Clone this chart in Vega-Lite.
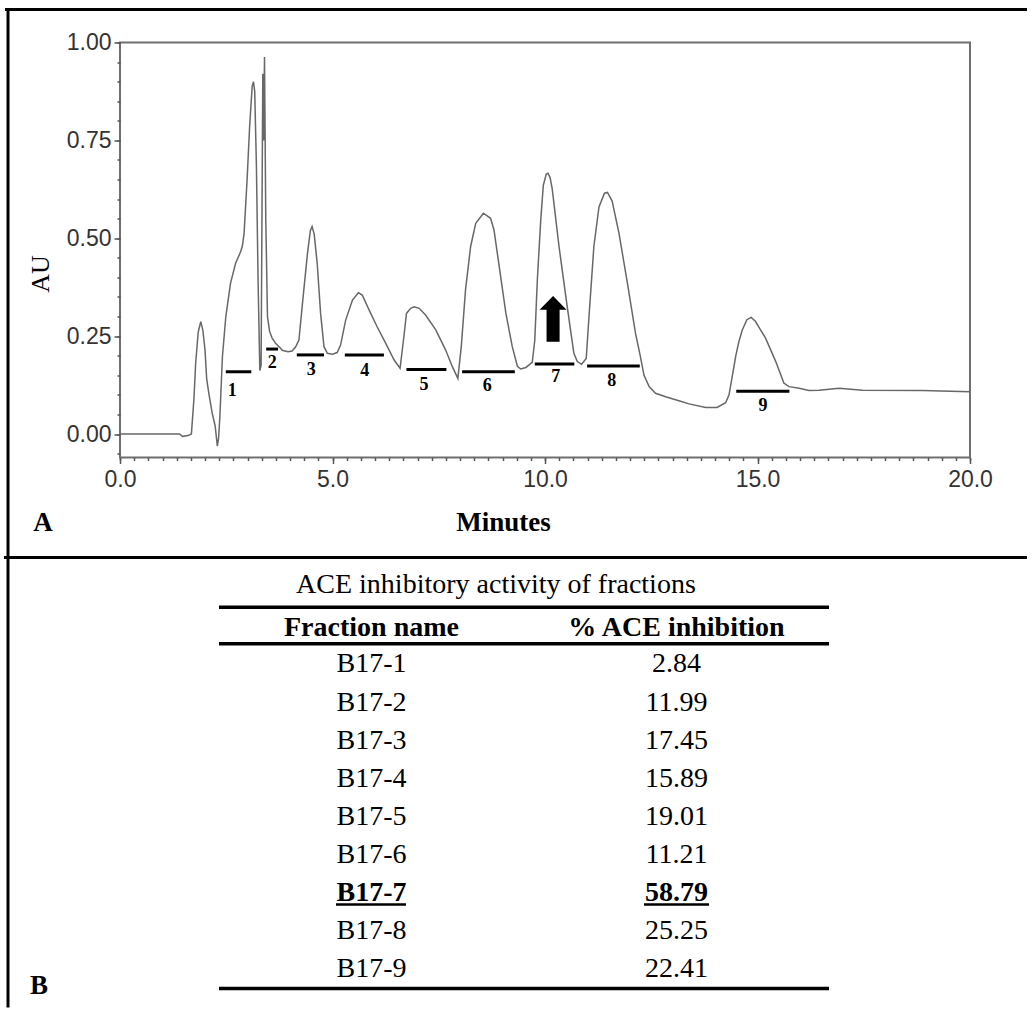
{
  "$schema": "https://vega.github.io/schema/vega-lite/v6.json",
  "background": "white",
  "padding": {"left": 2, "top": 5.5, "right": 0, "bottom": 0},
  "bounds": "flush",
  "spacing": 100,
  "config": {"view": {"stroke": null}, "text": {"font": "Liberation Serif", "color": "black"}},
  "datasets": {
    "curve": [
      {"t":0,"au":0},{"t":1.40,"au":0},{"t":1.47,"au":-0.006},{"t":1.60,"au":-0.004},{"t":1.68,"au":0.0},{"t":1.74,"au":0.09},{"t":1.78,"au":0.18},{"t":1.84,"au":0.26},{"t":1.90,"au":0.287},{"t":1.95,"au":0.265},{"t":2.00,"au":0.215},{"t":2.04,"au":0.14},{"t":2.09,"au":0.104},{"t":2.17,"au":0.053},{"t":2.24,"au":0.02},{"t":2.29,"au":-0.031},{"t":2.32,"au":-0.01},{"t":2.35,"au":0.044},{"t":2.41,"au":0.198},{"t":2.49,"au":0.30},{"t":2.60,"au":0.385},{"t":2.72,"au":0.436},{"t":2.84,"au":0.466},{"t":2.88,"au":0.48},{"t":2.92,"au":0.513},{"t":2.99,"au":0.649},{"t":3.05,"au":0.785},{"t":3.11,"au":0.888},{"t":3.14,"au":0.900},{"t":3.17,"au":0.875},{"t":3.21,"au":0.683},{"t":3.25,"au":0.385},{"t":3.29,"au":0.162},{"t":3.32,"au":0.175},{"t":3.36,"au":0.92},{"t":3.38,"au":0.75},{"t":3.40,"au":0.963},{"t":3.43,"au":0.55},{"t":3.47,"au":0.30},{"t":3.52,"au":0.262},{"t":3.58,"au":0.245},{"t":3.66,"au":0.232},{"t":3.75,"au":0.222},{"t":3.82,"au":0.214},{"t":3.95,"au":0.210},{"t":4.05,"au":0.212},{"t":4.13,"au":0.222},{"t":4.21,"au":0.24},{"t":4.29,"au":0.33},{"t":4.41,"au":0.46},{"t":4.48,"au":0.52},{"t":4.52,"au":0.53},{"t":4.57,"au":0.51},{"t":4.64,"au":0.436},{"t":4.72,"au":0.308},{"t":4.80,"au":0.223},{"t":4.88,"au":0.206},{"t":5.0,"au":0.204},{"t":5.11,"au":0.208},{"t":5.19,"au":0.227},{"t":5.31,"au":0.291},{"t":5.47,"au":0.342},{"t":5.61,"au":0.361},{"t":5.70,"au":0.355},{"t":5.86,"au":0.317},{"t":6.05,"au":0.274},{"t":6.25,"au":0.232},{"t":6.45,"au":0.189},{"t":6.59,"au":0.168},{"t":6.68,"au":0.249},{"t":6.74,"au":0.308},{"t":6.84,"au":0.321},{"t":6.92,"au":0.325},{"t":7.04,"au":0.321},{"t":7.19,"au":0.304},{"t":7.43,"au":0.266},{"t":7.66,"au":0.215},{"t":7.82,"au":0.172},{"t":7.95,"au":0.142},{"t":8.03,"au":0.223},{"t":8.13,"au":0.368},{"t":8.25,"au":0.479},{"t":8.37,"au":0.538},{"t":8.55,"au":0.564},{"t":8.72,"au":0.551},{"t":8.80,"au":0.521},{"t":8.92,"au":0.43},{"t":9.08,"au":0.308},{"t":9.23,"au":0.223},{"t":9.35,"au":0.173},{"t":9.43,"au":0.166},{"t":9.55,"au":0.170},{"t":9.70,"au":0.183},{"t":9.76,"au":0.240},{"t":9.82,"au":0.394},{"t":9.90,"au":0.547},{"t":9.96,"au":0.635},{"t":10.03,"au":0.664},{"t":10.07,"au":0.666},{"t":10.12,"au":0.655},{"t":10.17,"au":0.626},{"t":10.33,"au":0.479},{"t":10.49,"au":0.351},{"t":10.60,"au":0.266},{"t":10.68,"au":0.206},{"t":10.76,"au":0.185},{"t":10.86,"au":0.178},{"t":10.97,"au":0.193},{"t":11.04,"au":0.308},{"t":11.15,"au":0.479},{"t":11.27,"au":0.580},{"t":11.40,"au":0.615},{"t":11.47,"au":0.617},{"t":11.58,"au":0.595},{"t":11.74,"au":0.513},{"t":11.94,"au":0.385},{"t":12.13,"au":0.257},{"t":12.24,"au":0.20},{"t":12.33,"au":0.15},{"t":12.45,"au":0.121},{"t":12.60,"au":0.104},{"t":12.84,"au":0.095},{"t":13.15,"au":0.085},{"t":13.39,"au":0.077},{"t":13.78,"au":0.068},{"t":14.05,"au":0.068},{"t":14.25,"au":0.080},{"t":14.33,"au":0.100},{"t":14.41,"au":0.150},{"t":14.49,"au":0.20},{"t":14.56,"au":0.235},{"t":14.64,"au":0.265},{"t":14.75,"au":0.292},{"t":14.85,"au":0.298},{"t":14.95,"au":0.288},{"t":15.05,"au":0.27},{"t":15.19,"au":0.245},{"t":15.43,"au":0.185},{"t":15.62,"au":0.130},{"t":15.74,"au":0.121},{"t":15.98,"au":0.117},{"t":16.21,"au":0.111},{"t":16.45,"au":0.112},{"t":16.92,"au":0.117},{"t":17.47,"au":0.112},{"t":18.88,"au":0.111},{"t":20.0,"au":0.108}
    ],
    "fractions": [
      {"fraction":"1","start":2.49,"end":3.09,"level":0.159,"label_t":2.64,"label_au":0.111},
      {"fraction":"2","start":3.44,"end":3.72,"level":0.217,"label_t":3.58,"label_au":0.181},
      {"fraction":"3","start":4.16,"end":4.80,"level":0.202,"label_t":4.50,"label_au":0.164},
      {"fraction":"4","start":5.29,"end":6.21,"level":0.202,"label_t":5.76,"label_au":0.162},
      {"fraction":"5","start":6.74,"end":7.68,"level":0.165,"label_t":7.15,"label_au":0.125},
      {"fraction":"6","start":8.05,"end":9.29,"level":0.159,"label_t":8.64,"label_au":0.123},
      {"fraction":"7","start":9.76,"end":10.69,"level":0.179,"label_t":10.25,"label_au":0.145},
      {"fraction":"8","start":10.99,"end":12.23,"level":0.174,"label_t":11.57,"label_au":0.135},
      {"fraction":"9","start":14.50,"end":15.75,"level":0.109,"label_t":15.13,"label_au":0.072}
    ],
    "table": [
      {"fraction":"B17-1","inhibition":2.84,"row":1,"best":false},
      {"fraction":"B17-2","inhibition":11.99,"row":2,"best":false},
      {"fraction":"B17-3","inhibition":17.45,"row":3,"best":false},
      {"fraction":"B17-4","inhibition":15.89,"row":4,"best":false},
      {"fraction":"B17-5","inhibition":19.01,"row":5,"best":false},
      {"fraction":"B17-6","inhibition":11.21,"row":6,"best":false},
      {"fraction":"B17-7","inhibition":58.79,"row":7,"best":true},
      {"fraction":"B17-8","inhibition":25.25,"row":8,"best":false},
      {"fraction":"B17-9","inhibition":22.41,"row":9,"best":false}
    ]
  },
  "vconcat": [
    {
      "width": 850,
      "height": 415,
      "view": {"stroke": "#6f6f6f", "strokeWidth": 2},
      "resolve": {"axis": {"x": "independent", "y": "independent"}},
      "layer": [
        {
          "data": {"name": "curve"},
          "mark": {"type": "line", "color": "#686868", "strokeWidth": 1.5},
          "encoding": {
            "x": {
              "field": "t", "type": "quantitative",
              "scale": {"domain": [0, 20], "nice": false, "zero": false},
              "axis": {
                "orient": "bottom",
                "values": [0, 5, 10, 15, 20], "format": ".1f",
                "tickSize": 6, "domain": false, "grid": false,
                "labelFont": "Liberation Sans", "labelFontSize": 23, "labelColor": "#333333",
                "labelPadding": 5, "labelOverlap": false, "labelFlush": false, "labelBound": false,
                "tickColor": "#555555", "tickWidth": 1.5,
                "title": "Minutes", "titleFont": "Liberation Serif", "titleFontSize": 27, "titleFontWeight": "bold",
                "titleColor": "black", "titleX": 383, "titleY": 73, "titleAlign": "center", "titleBaseline": "alphabetic"
              }
            },
            "y": {
              "field": "au", "type": "quantitative",
              "scale": {"domain": [-0.06, 1.0], "nice": false, "zero": false},
              "axis": {
                "orient": "left",
                "values": [0, 0.25, 0.5, 0.75, 1.0], "format": ".2f",
                "tickSize": 6, "domain": false, "grid": false,
                "labelFont": "Liberation Sans", "labelFontSize": 23, "labelColor": "#333333",
                "labelPadding": 3, "labelOverlap": false, "labelFlush": false, "labelBound": false,
                "tickColor": "#555555", "tickWidth": 1.5,
                "title": "AU", "titleFont": "Liberation Serif", "titleFontSize": 26, "titleFontWeight": "normal",
                "titleColor": "black", "titleX": -80, "titleY": 231, "titleAngle": -90, "titleAlign": "center", "titleBaseline": "middle"
              }
            }
          }
        },
        {
          "data": {"name": "fractions"},
          "mark": {"type": "rule", "color": "black", "strokeWidth": 3},
          "encoding": {
            "x": {"field": "start", "type": "quantitative",
              "axis": {"orient": "bottom", "values": [0,0.3333,0.6667,1,1.3333,1.6667,2,2.3333,2.6667,3,3.3333,3.6667,4,4.3333,4.6667,5,5.3333,5.6667,6,6.3333,6.6667,7,7.3333,7.6667,8,8.3333,8.6667,9,9.3333,9.6667,10,10.3333,10.6667,11,11.3333,11.6667,12,12.3333,12.6667,13,13.3333,13.6667,14,14.3333,14.6667,15,15.3333,15.6667,16,16.3333,16.6667,17,17.3333,17.6667,18,18.3333,18.6667,19,19.3333,19.6667,20],
                "labels": false, "tickSize": 3, "tickColor": "#555555", "tickWidth": 1.5, "domain": false, "grid": false, "title": null}},
            "x2": {"field": "end"},
            "y": {"field": "level", "type": "quantitative",
              "axis": {"orient": "left", "values": [-0.05,0,0.05,0.1,0.15,0.2,0.25,0.3,0.35,0.4,0.45,0.5,0.55,0.6,0.65,0.7,0.75,0.8,0.85,0.9,0.95,1.0],
                "labels": false, "tickSize": 3, "tickColor": "#555555", "tickWidth": 1.5, "domain": false, "grid": false, "title": null}}
          }
        },
        {
          "data": {"name": "fractions"},
          "mark": {"type": "text", "font": "Liberation Serif", "fontWeight": "bold", "fontSize": 18, "align": "center", "baseline": "middle", "color": "black"},
          "encoding": {
            "x": {"field": "label_t", "type": "quantitative", "axis": null},
            "y": {"field": "label_au", "type": "quantitative", "axis": null},
            "text": {"field": "fraction"}
          }
        },
        {
          "data": {"values": [{"t": 10.19, "au": 0.2943}]},
          "mark": {"type": "point", "shape": "M0,-1L0.59,-0.39L0.285,-0.39L0.285,1L-0.285,1L-0.285,-0.39L-0.59,-0.39Z", "filled": true, "color": "black", "opacity": 1, "size": 2090, "strokeWidth": 0},
          "encoding": {
            "x": {"field": "t", "type": "quantitative", "axis": null},
            "y": {"field": "au", "type": "quantitative", "axis": null}
          }
        },
        {
          "data": {"values": [{}]},
          "mark": {"type": "text", "text": "A", "font": "Liberation Serif", "fontWeight": "bold", "fontSize": 27, "align": "center", "baseline": "alphabetic", "color": "black"},
          "encoding": {"x": {"datum": -1.812, "axis": null}, "y": {"datum": -0.2465, "axis": null}}
        },
        {
          "data": {"values": [{}]},
          "mark": {"type": "rule", "color": "black", "strokeWidth": 3},
          "encoding": {"x": {"datum": -2.706, "axis": null}, "x2": {"datum": 21.341}, "y": {"datum": 1.0843, "axis": null}}
        },
        {
          "data": {"values": [{}]},
          "mark": {"type": "rule", "color": "black", "strokeWidth": 3},
          "encoding": {"x": {"datum": -2.635, "axis": null}, "y": {"datum": 1.0881, "axis": null}, "y2": {"datum": -0.3154}}
        }
      ]
    },
    {
      "width": 850,
      "height": 450,
      "view": {"stroke": null},
      "encoding": {
        "x": {"type": "quantitative", "scale": {"domain": [-0.32459, 2.4623], "nice": false, "zero": false}, "axis": null},
        "y": {"type": "quantitative", "scale": {"domain": [-1.8128, 10.0169], "reverse": true, "nice": false, "zero": false}, "axis": null}
      },
      "layer": [
        {
          "data": {"name": "table"},
          "transform": [{"filter": "!datum.best"}],
          "mark": {"type": "text", "fontSize": 28, "align": "center", "baseline": "middle"},
          "encoding": {"x": {"datum": 0.5}, "y": {"field": "row"}, "text": {"field": "fraction"}}
        },
        {
          "data": {"name": "table"},
          "transform": [{"filter": "!datum.best"}],
          "mark": {"type": "text", "fontSize": 28, "align": "center", "baseline": "middle"},
          "encoding": {"x": {"datum": 1.5}, "y": {"field": "row"}, "text": {"field": "inhibition", "type": "quantitative", "format": ".2f"}}
        },
        {
          "data": {"name": "table"},
          "transform": [{"filter": "datum.best"}],
          "mark": {"type": "text", "fontSize": 28, "fontWeight": "bold", "align": "center", "baseline": "middle"},
          "encoding": {"x": {"datum": 0.5}, "y": {"field": "row"}, "text": {"field": "fraction"}}
        },
        {
          "data": {"name": "table"},
          "transform": [{"filter": "datum.best"}],
          "mark": {"type": "text", "fontSize": 28, "fontWeight": "bold", "align": "center", "baseline": "middle"},
          "encoding": {"x": {"datum": 1.5}, "y": {"field": "row"}, "text": {"field": "inhibition", "type": "quantitative", "format": ".2f"}}
        },
        {
          "data": {"values": [{}]},
          "mark": {"type": "rule", "color": "black", "strokeWidth": 2.5},
          "encoding": {"x": {"datum": 0.3836}, "x2": {"datum": 0.6131}, "y": {"datum": 7.309}}
        },
        {
          "data": {"values": [{}]},
          "mark": {"type": "rule", "color": "black", "strokeWidth": 2.5},
          "encoding": {"x": {"datum": 1.3934}, "x2": {"datum": 1.6066}, "y": {"datum": 7.309}}
        },
        {
          "data": {"values": [{}]},
          "mark": {"type": "text", "text": "Fraction name", "fontSize": 28, "fontWeight": "bold", "align": "center", "baseline": "middle"},
          "encoding": {"x": {"datum": 0.5}, "y": {"datum": 0.05}}
        },
        {
          "data": {"values": [{}]},
          "mark": {"type": "text", "text": "% ACE inhibition", "fontSize": 28, "fontWeight": "bold", "align": "center", "baseline": "middle"},
          "encoding": {"x": {"datum": 1.5}, "y": {"datum": 0.05}}
        },
        {
          "data": {"values": [{}]},
          "mark": {"type": "text", "text": "ACE inhibitory activity of fractions", "fontSize": 28, "align": "center", "baseline": "middle"},
          "encoding": {"x": {"datum": 0.908}, "y": {"datum": -1.077}}
        },
        {
          "data": {"values": [{"pos": -0.506}, {"pos": 0.456}, {"pos": 9.517}]},
          "mark": {"type": "rule", "color": "black", "strokeWidth": 3.5},
          "encoding": {"x": {"datum": 0}, "x2": {"datum": 2}, "y": {"field": "pos"}}
        },
        {
          "data": {"values": [{}]},
          "mark": {"type": "text", "text": "B", "fontSize": 27, "fontWeight": "bold", "align": "center", "baseline": "alphabetic"},
          "encoding": {"x": {"datum": -0.590}, "y": {"datum": 9.675}}
        },
        {
          "data": {"values": [{}]},
          "mark": {"type": "rule", "color": "black", "strokeWidth": 3},
          "encoding": {"x": {"datum": -0.705}, "x2": {"datum": 2.649}, "y": {"datum": -1.8128}}
        },
        {
          "data": {"values": [{}]},
          "mark": {"type": "rule", "color": "black", "strokeWidth": 3},
          "encoding": {"x": {"datum": -0.6918}, "y": {"datum": -1.8128}, "y2": {"datum": 10.0169}}
        }
      ]
    }
  ]
}
